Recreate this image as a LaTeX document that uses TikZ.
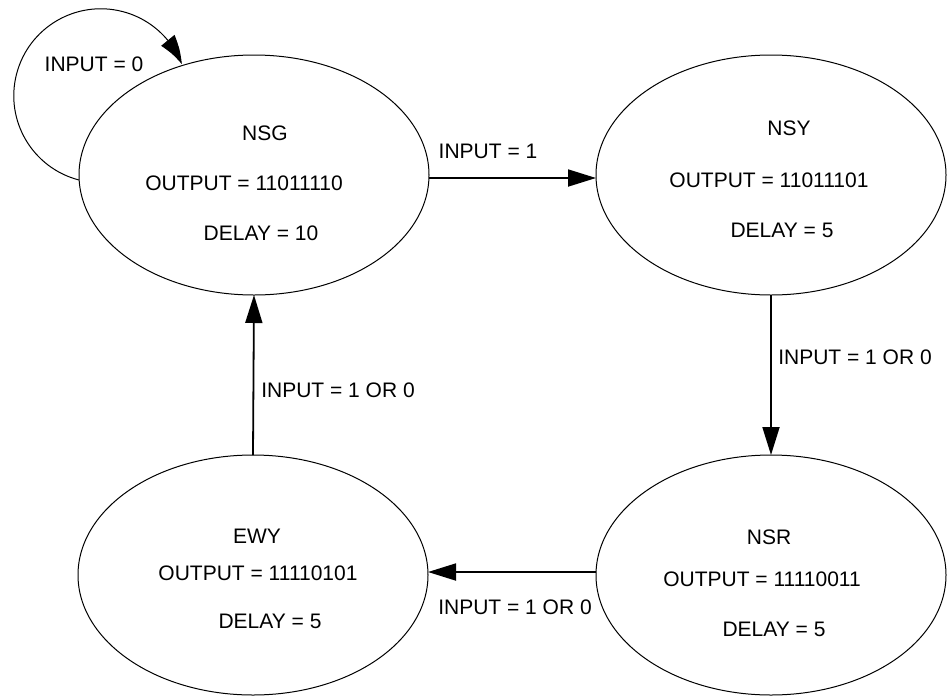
\documentclass[tikz,border=0pt]{standalone}
\usepackage{fontspec}
\setmainfont{Liberation Sans}
\usetikzlibrary{shapes.geometric,arrows.meta,bending}
\begin{document}
\begin{tikzpicture}[x=1pt,y=1pt,
  state/.style={draw,line width=1pt,ellipse,minimum width=350pt,minimum height=240pt,inner sep=0pt,outer sep=0pt},
  txt/.style={inner sep=0pt,font=\fontsize{21}{25}\selectfont},
  trans/.style={line width=1.8pt,-{Triangle[length=28pt,width=17pt]}},
  loopline/.style={line width=1pt,-{Triangle[length=28pt,width=17pt,bend]}}]
\useasboundingbox (0,0) rectangle (948,-697);
% states
\node[state] (nsg) at (254,-175) {};
\node[state] (nsy) at (771,-175) {};
\node[state] (nsr) at (771,-575) {};
\node[state] (ewy) at (253,-575) {};
% texts
\node[txt] (nsgname) at (265,-133) {NSG};
\node[txt] (nsgout) at (244,-183) {OUTPUT = 11011110};
\node[txt] (nsgdel) at (261,-233) {DELAY = 10};
\node[txt] (nsyname) at (789,-128) {NSY};
\node[txt] (nsyout) at (769,-180) {OUTPUT = 11011101};
\node[txt] (nsydel) at (782,-230) {DELAY = 5};
\node[txt] (nsrname) at (769,-537) {NSR};
\node[txt] (nsrout) at (762,-579) {OUTPUT = 11110011};
\node[txt] (nsrdel) at (774,-629) {DELAY = 5};
\node[txt] (ewyname) at (257,-536) {EWY};
\node[txt] (ewyout) at (258,-573) {OUTPUT = 11110101};
\node[txt] (ewydel) at (270,-621) {DELAY = 5};
% transitions
\draw[trans] ([yshift=-3pt]nsg.east) -- ([yshift=-3pt]nsy.west);
\draw[trans] (nsy.south) -- (nsr.north);
\draw[trans] ([yshift=3pt]nsr.west) -- ([yshift=3pt]ewy.east);
\draw[trans] (ewy.north) -- (nsg.south);
\draw[loopline] ([yshift=-5pt]nsg.west) arc[start angle=255.5,end angle=21.3,radius=87];
% labels
\node[txt] (l0) at (94,-64) {INPUT = 0};
\node[txt] (l1) at (488,-151) {INPUT = 1};
\node[txt] (l2) at (855,-357) {INPUT = 1 OR 0};
\node[txt] (l3) at (515,-607) {INPUT = 1 OR 0};
\node[txt] (l4) at (338,-390) {INPUT = 1 OR 0};
\end{tikzpicture}
\end{document}
